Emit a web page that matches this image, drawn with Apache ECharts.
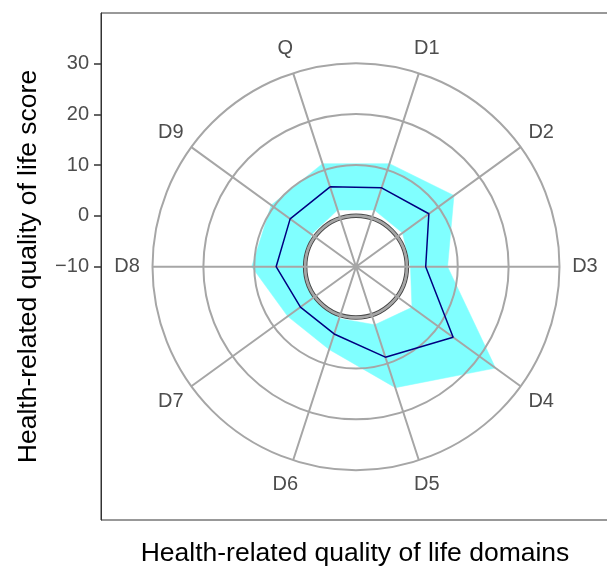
<!DOCTYPE html>
<html>
<head>
<meta charset="utf-8">
<script src="https://cdn.jsdelivr.net/npm/echarts@6/dist/echarts.min.js"></script>
<style>
  html, body { margin: 0; padding: 0; background: #fff; }
  #main { width: 607px; height: 566px; }
</style>
</head>
<body>
<div id="main"></div>
<script>
// domains round the radar, clockwise from the top
var domains = ['Q', 'D1', 'D2', 'D3', 'D4', 'D5', 'D6', 'D7', 'D8', 'D9'];
// mean score and the band around it
var meanScore  = [6.5, 6.3, 7.7, 3.7, 13.6, 8.7, 3.9, 3.5, 5.7, 6.0];
var upperScore = [11.3, 11.3, 13.8, 8.0, 23.9, 15.0, 7.1, 6.6, 10.5, 10.6];
var lowerScore = [1.7, 1.7, 1.3, 0.7, 3.6, 2.0, 0.7, 0.1, 0.3, 0.8];
var yTicks = [-10, 0, 10, 20, 30];
var labelRadius = 35;   // where the domain names sit, in score units

var font = '"Liberation Sans", Arial, Helvetica, sans-serif';
var gridCol = '#a6a6a6';

var chart = echarts.init(document.getElementById('main'), null, { renderer: 'canvas' });

function bandItem(params, api) {
  var i = params.dataIndex;
  var j = i + 1;
  var jj = j % domains.length;
  var pts = [
    api.coord([upperScore[i], i]),
    api.coord([upperScore[jj], j]),
    api.coord([lowerScore[jj], j]),
    api.coord([lowerScore[i], i])
  ];
  return { type: 'polygon', shape: { points: pts }, style: { fill: '#80ffff', stroke: '#80ffff', lineWidth: 0.5 } };
}

function ringItem(params, api) {
  var c = api.coord([-10, 0]);
  var p = api.coord([0, 0]);
  var r = Math.sqrt((p[0] - c[0]) * (p[0] - c[0]) + (p[1] - c[1]) * (p[1] - c[1]));
  return {
    type: 'group',
    children: [
      { type: 'circle', shape: { cx: c[0], cy: c[1], r: r }, style: { fill: null, stroke: '#4a4a4a', lineWidth: 4.5 } },
      { type: 'circle', shape: { cx: c[0], cy: c[1], r: r }, style: { fill: null, stroke: gridCol, lineWidth: 2.5 } }
    ]
  };
}

function labelItem(params, api) {
  var p = api.coord([labelRadius, params.dataIndex]);
  return {
    type: 'text',
    x: p[0], y: p[1],
    style: { text: domains[params.dataIndex], align: 'center', verticalAlign: 'middle',
             fontSize: 20, fontFamily: font, fill: '#4d4d4d' }
  };
}

var meanLine = meanScore.map(function (v, i) { return [v, i]; });
meanLine.push([meanScore[0], domains.length]);

var option = {
  animation: false,
  grid: {
    left: 101, top: 13, width: 508, height: 507,
    outerBoundsMode: 'none', containLabel: false,
    show: true, borderColor: '#333', borderWidth: 1, backgroundColor: 'transparent'
  },
  xAxis: {
    type: 'value', min: -50, max: 50,
    name: 'Health-related quality of life domains',
    nameLocation: 'middle', nameGap: 20,
    nameTextStyle: { fontSize: 26.5, fontFamily: font, color: '#000' },
    axisLine: { show: false }, axisTick: { show: false },
    axisLabel: { show: false }, splitLine: { show: false }
  },
  yAxis: {
    type: 'value', min: -60, max: 40, interval: 10,
    name: 'Health-related quality of life score',
    nameLocation: 'middle', nameGap: 59, nameRotate: 90,
    nameTextStyle: { fontSize: 26.5, fontFamily: font, color: '#000' },
    axisLine: { show: true, onZero: false, lineStyle: { color: '#333', width: 1 } },
    axisTick: { show: true, length: 7, customValues: yTicks, lineStyle: { color: '#333', width: 1.5 } },
    axisLabel: {
      customValues: yTicks, margin: 12, fontSize: 20, fontFamily: font, color: '#4d4d4d',
      formatter: function (v) { return yTicks.indexOf(v) < 0 ? '' : String(v).replace('-', '\u2212'); }
    },
    splitLine: { show: false }
  },
  polar: { center: [356, 266.7], radius: 203.5 },
  radiusAxis: {
    type: 'value', min: -10, max: 30, interval: 10, z: 3,
    axisLine: { show: false }, axisTick: { show: false }, axisLabel: { show: false },
    splitLine: { show: true, lineStyle: { color: gridCol, width: 2 } }
  },
  angleAxis: {
    type: 'value', min: 0, max: domains.length, interval: 1, startAngle: 108, clockwise: true, z: 3,
    axisLine: { show: false }, axisTick: { show: false }, axisLabel: { show: false },
    splitLine: { show: true, lineStyle: { color: gridCol, width: 2 } }
  },
  series: [
    {
      type: 'custom', coordinateSystem: 'polar', z: 1, silent: true,
      data: upperScore.map(function (v, i) { return [v, i]; }),
      renderItem: bandItem
    },
    {
      type: 'custom', coordinateSystem: 'polar', z: 2, silent: true,
      data: [[0, 0]],
      renderItem: ringItem
    },
    {
      type: 'line', coordinateSystem: 'polar', z: 5, silent: true,
      data: meanLine, symbol: 'none',
      lineStyle: { color: '#000080', width: 1.5 }
    },
    {
      type: 'custom', coordinateSystem: 'polar', z: 6, silent: true,
      data: domains.map(function (d, i) { return [labelRadius, i]; }),
      renderItem: labelItem
    }
  ]
};

chart.setOption(option);
</script>
</body>
</html>
